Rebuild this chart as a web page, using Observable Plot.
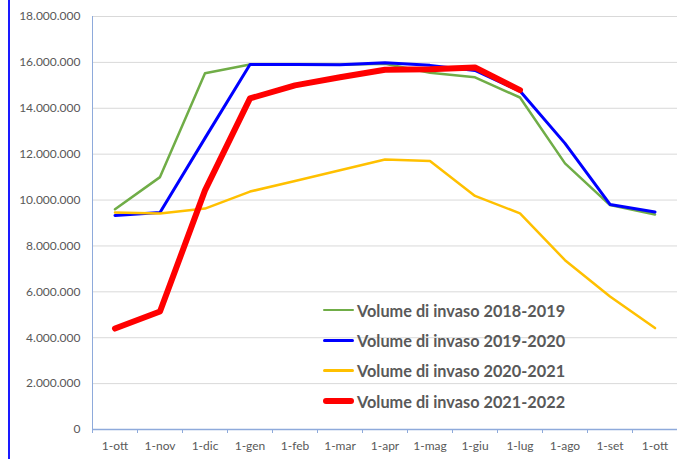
<!DOCTYPE html>
<html>
<head>
<meta charset="utf-8">
<script src="https://cdn.jsdelivr.net/npm/d3@7"></script>
<script src="https://cdn.jsdelivr.net/npm/@observablehq/plot@0.6"></script>
<style>
  html, body { margin: 0; padding: 0; background: #fff; }
  #wrap { position: relative; width: 677px; height: 459px; overflow: hidden; font-family: Lato, "Open Sans", sans-serif; }
  #edge { position: absolute; left: 8px; top: 0; width: 2px; height: 459px; background: #1a1aff; }
  #legend { position: absolute; left: 323px; top: 295px; }
  .row { display: flex; align-items: center; height: 30.3px; }
  .sw { width: 31px; border-radius: 3px; margin-right: 3px; }
  .lbl { font-weight: bold; font-size: 16.3px; color: #595959; white-space: nowrap; }
</style>
</head>
<body>
<div id="wrap"><div id="chart"></div><div id="edge"></div><div id="legend"></div></div>
<script>
const months = ["1-ott","1-nov","1-dic","1-gen","1-feb","1-mar","1-apr","1-mag","1-giu","1-lug","1-ago","1-set","1-ott"];
const v2018_2019 = [9.60, 11.00, 15.53, 15.91, 15.92, 15.90, 15.94, 15.55, 15.35, 14.47, 11.60, 9.78, 9.37];
const v2019_2020 = [9.33, 9.46, 12.70, 15.91, 15.91, 15.90, 15.98, 15.87, 15.65, 14.75, 12.47, 9.81, 9.48];
const v2020_2021 = [9.46, 9.41, 9.63, 10.37, 10.83, 11.30, 11.77, 11.70, 10.18, 9.42, 7.38, 5.80, 4.42];
const v2021_2022 = [4.40, 5.14, 10.42, 14.43, 15.00, 15.35, 15.68, 15.70, 15.78, 14.79];
const seriesNames = ["Volume di invaso 2018-2019","Volume di invaso 2019-2020","Volume di invaso 2020-2021","Volume di invaso 2021-2022"];
const seriesColors = ["#70ad47","#0000ff","#ffc000","#ff0000"];
const seriesWidths = [2.5, 3, 2.5, 6];
const yTicks = [0, 2e6, 4e6, 6e6, 8e6, 10e6, 12e6, 14e6, 16e6, 18e6];

const allSeries = [v2018_2019, v2019_2020, v2020_2021, v2021_2022];
const fmt = d3.formatLocale({decimal: ",", thousands: ".", grouping: [3], currency: ["", "€"]}).format(",");

const lineMarks = allSeries.map((vals, s) => Plot.line(
  vals.map((v, i) => ({x: i + 0.5, y: v * 1e6})),
  {x: "x", y: "y", stroke: seriesColors[s], strokeWidth: seriesWidths[s], strokeLinejoin: "round", strokeLinecap: "round"}
));

const chart = Plot.plot({
  width: 677, height: 459,
  marginLeft: 92, marginRight: 0, marginTop: 16, marginBottom: 30,
  x: {type: "linear", domain: [0, months.length], axis: null, label: null},
  y: {domain: [0, 18e6], axis: null, label: null},
  style: {fontFamily: "Lato, 'Open Sans', sans-serif", fontSize: "12px", color: "#595959", background: "transparent"},
  marks: [
    Plot.gridY(yTicks.filter(d => d > 0), {stroke: "#d9d9d9", strokeOpacity: 1, strokeWidth: 1}),
    Plot.axisY(yTicks, {tickSize: 0, tickPadding: 12, tickFormat: fmt, fill: "#595959", fontSize: 12, label: null}),
    Plot.ruleX([0], {stroke: "#8eaadb", strokeWidth: 1}),
    Plot.ruleY([0], {stroke: "#8eaadb", strokeWidth: 1.3}),
    Plot.axisX(d3.range(0, months.length + 1), {tickSize: 4, tickFormat: () => "", stroke: "#8eaadb", label: null}),
    Plot.axisX(months.map((m, i) => i + 0.5), {tickSize: 0, tickPadding: 12, tickFormat: d => months[Math.floor(d)], fill: "#595959", fontSize: 12, label: null}),
    ...lineMarks
  ]
});
document.getElementById("chart").appendChild(chart);

const legend = document.getElementById("legend");
seriesNames.forEach((name, s) => {
  const row = document.createElement("div");
  row.className = "row";
  const sw = document.createElement("div");
  sw.className = "sw";
  sw.style.height = seriesWidths[s] + "px";
  sw.style.background = seriesColors[s];
  const lbl = document.createElement("span");
  lbl.className = "lbl";
  lbl.textContent = name;
  row.appendChild(sw); row.appendChild(lbl);
  legend.appendChild(row);
});
</script>
</body>
</html>
